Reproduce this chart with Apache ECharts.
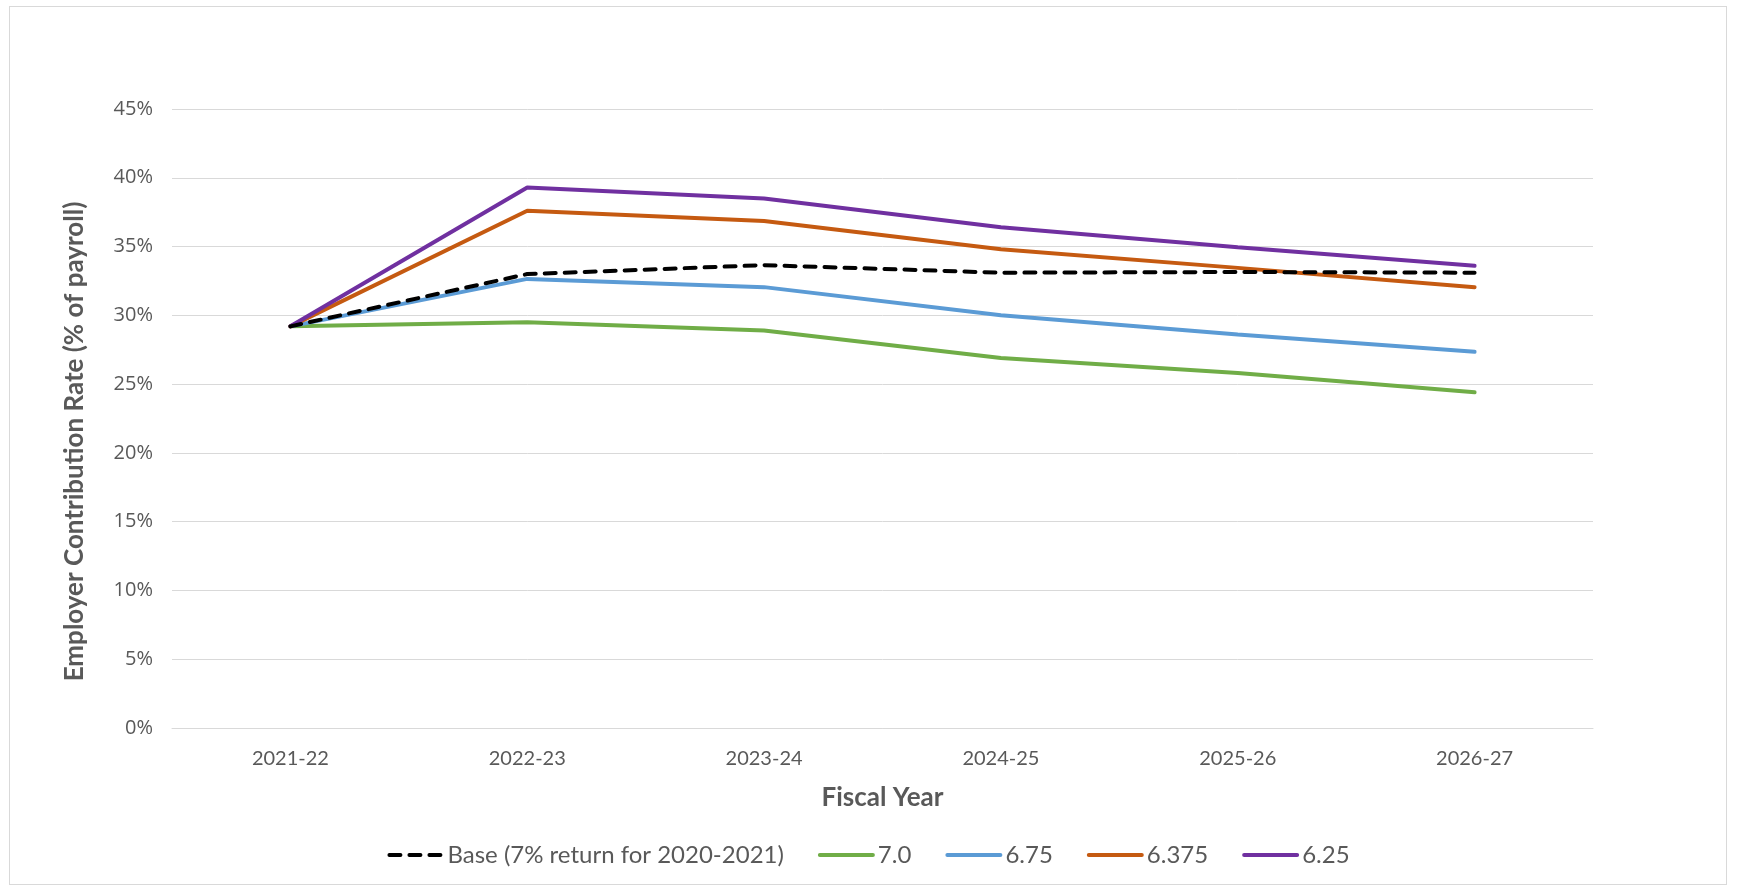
<!DOCTYPE html>
<html>
<head>
<meta charset="utf-8">
<script src="https://cdn.jsdelivr.net/npm/echarts@6/dist/echarts.min.js"></script>
<style>
html,body{margin:0;padding:0;background:#fff;}
#frame{position:absolute;left:9px;top:6px;width:1718px;height:879px;border:1px solid #d9d9d9;box-sizing:border-box;}
#chart{position:absolute;left:0;top:0;width:1737px;height:889px;}
</style>
</head>
<body>
<div id="frame"></div>
<div id="chart"></div>
<script>
const categories = ['2021-22', '2022-23', '2023-24', '2024-25', '2025-26', '2026-27'];
const seriesNames = ['Base (7% return for 2020-2021)', '7.0', '6.75', '6.375', '6.25'];
const baseValues = [29.2, 33.0, 33.65, 33.1, 33.15, 33.1];
const r700Values = [29.2, 29.5, 28.9, 26.9, 25.8, 24.4];
const r675Values = [29.2, 32.65, 32.05, 30.0, 28.6, 27.35];
const r6375Values = [29.2, 37.6, 36.85, 34.8, 33.45, 32.05];
const r625Values = [29.2, 39.3, 38.5, 36.4, 34.95, 33.6];
const yTicks = [0, 5, 10, 15, 20, 25, 30, 35, 40, 45];

const colors = ['#000000', '#70ad47', '#5b9bd5', '#c55a11', '#7030a0'];
const allValues = [baseValues, r700Values, r675Values, r6375Values, r625Values];
const FONT = 'Lato';

const chart = echarts.init(document.getElementById('chart'), null, {renderer: 'canvas'});
const series = seriesNames.map((name, i) => ({
  name: name,
  type: 'line',
  data: allValues[i],
  symbol: 'none',
  showSymbol: false,
  smooth: false,
  z: i === 0 ? 3 : 2,
  lineStyle: {
    color: colors[i],
    width: 4,
    type: i === 0 ? [11, 9] : 'solid',
    cap: 'round'
  },
  itemStyle: {color: colors[i]}
}));
series.push(series.shift());

chart.setOption({
  animation: false,
  backgroundColor: 'transparent',
  grid: {left: 172, right: 144, top: 109, bottom: 161, containLabel: false},
  legend: {
    data: seriesNames,
    top: 838,
    left: 'center',
    itemWidth: 53,
    itemHeight: 12,
    itemGap: 34,
    itemStyle: {opacity: 0},
    lineStyle: {width: 4},
    textStyle: {fontFamily: FONT, fontSize: 24, color: '#595959'}
  },
  xAxis: {
    type: 'category',
    data: categories,
    boundaryGap: true,
    axisLine: {show: true, lineStyle: {color: '#d9d9d9', width: 1}},
    axisTick: {show: false},
    axisLabel: {margin: 21, fontFamily: FONT, fontSize: 20, color: '#595959'},
    name: 'Fiscal Year',
    nameLocation: 'middle',
    nameGap: 57,
    nameTextStyle: {fontFamily: FONT, fontSize: 26, fontWeight: 'bold', color: '#595959'}
  },
  yAxis: {
    type: 'value',
    min: yTicks[0],
    max: yTicks[yTicks.length - 1],
    interval: 5,
    axisLine: {show: false},
    axisTick: {show: false},
    splitLine: {lineStyle: {color: '#d9d9d9', width: 1}},
    axisLabel: {margin: 19, formatter: '{value}%', fontFamily: 'Open Sans', fontSize: 20, color: '#595959'},
    name: 'Employer Contribution Rate (% of payroll)',
    nameLocation: 'middle',
    nameGap: 84,
    nameTextStyle: {fontFamily: FONT, fontSize: 26, fontWeight: 'bold', color: '#595959', padding: [0, 46, 0, 0]}
  },
  series: series
});
</script>
</body>
</html>
